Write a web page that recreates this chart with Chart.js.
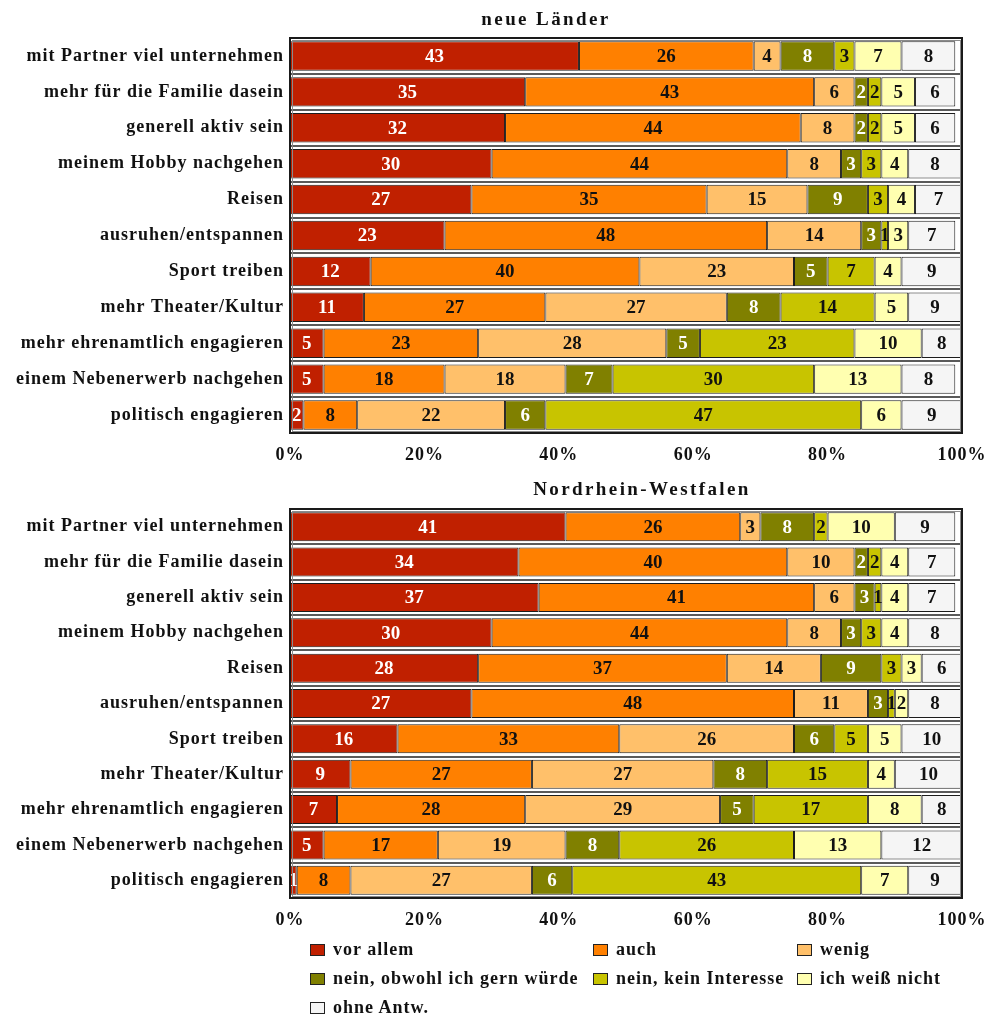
<!DOCTYPE html>
<html lang="de">
<head>
<meta charset="utf-8">
<title>Freizeitwünsche</title>
<script src="https://cdn.jsdelivr.net/npm/chart.js@4.4.1/dist/chart.umd.min.js"></script>
<style>
  html, body { margin: 0; padding: 0; background: #fff; }
  body { width: 989px; height: 1017px; position: relative; overflow: hidden;
         font-family: "Liberation Serif", "Times New Roman", serif; }
  .wrap { position: absolute; left: 0; width: 989px; }
  #legend { position: absolute; left: 0; top: 0; width: 989px; height: 1017px; pointer-events: none; }
  .item { position: absolute; display: flex; align-items: center; font-weight: bold;
          font-size: 18px; letter-spacing: 1px; color: #111; white-space: nowrap; }
  .box { width: 15px; height: 12px; border: 1.5px solid #222; margin-right: 8px; box-sizing: border-box; }
</style>
</head>
<body>
<div class="wrap" style="top:0;height:470px;"><canvas id="c1" width="989" height="470"></canvas></div>
<div class="wrap" style="top:470px;height:460px;"><canvas id="c2" width="989" height="460"></canvas></div>
<div id="legend"></div>
<script>
// Activities (rows, top to bottom)
const categories = [
  'mit Partner viel unternehmen',
  'mehr für die Familie dasein',
  'generell aktiv sein',
  'meinem Hobby nachgehen',
  'Reisen',
  'ausruhen/entspannen',
  'Sport treiben',
  'mehr Theater/Kultur',
  'mehr ehrenamtlich engagieren',
  'einem Nebenerwerb nachgehen',
  'politisch engagieren'
];

// Answer categories (stack order, left to right)
const seriesNames = [
  'vor allem', 'auch', 'wenig', 'nein, obwohl ich gern würde',
  'nein, kein Interesse', 'ich weiß nicht', 'ohne Antw.'
];
const seriesColors = ['#c02000', '#ff8000', '#ffc06a', '#808000', '#c8c400', '#ffffb0', '#f5f5f5'];
const labelColors  = ['#ffffff', '#111111', '#111111', '#ffffff', '#111111', '#111111', '#111111'];

const xTickLabels = ['0%', '20%', '40%', '60%', '80%', '100%'];

// neue Länder (percent)
const nlVorAllem   = [43, 35, 32, 30, 27, 23, 12, 11, 5, 5, 2];
const nlAuch       = [26, 43, 44, 44, 35, 48, 40, 27, 23, 18, 8];
const nlWenig      = [4, 6, 8, 8, 15, 14, 23, 27, 28, 18, 22];
const nlNeinGern   = [8, 2, 2, 3, 9, 3, 5, 8, 5, 7, 6];
const nlNeinKein   = [3, 2, 2, 3, 3, 1, 7, 14, 23, 30, 47];
const nlWeissNicht = [7, 5, 5, 4, 4, 3, 4, 5, 10, 13, 6];
const nlOhne       = [8, 6, 6, 8, 7, 7, 9, 9, 8, 8, 9];

// Nordrhein-Westfalen (percent)
const nrwVorAllem   = [41, 34, 37, 30, 28, 27, 16, 9, 7, 5, 1];
const nrwAuch       = [26, 40, 41, 44, 37, 48, 33, 27, 28, 17, 8];
const nrwWenig      = [3, 10, 6, 8, 14, 11, 26, 27, 29, 19, 27];
const nrwNeinGern   = [8, 2, 3, 3, 9, 3, 6, 8, 5, 8, 6];
const nrwNeinKein   = [2, 2, 1, 3, 3, 1, 5, 15, 17, 26, 43];
const nrwWeissNicht = [10, 4, 4, 4, 3, 2, 5, 4, 8, 13, 7];
const nrwOhne       = [9, 7, 7, 8, 6, 8, 10, 10, 8, 12, 9];

const FONT = '"Liberation Serif", "Times New Roman", serif';

function makeDatasets(seriesValues) {
  return seriesValues.map((vals, i) => ({
    label: seriesNames[i],
    data: vals,
    backgroundColor: seriesColors[i],
    borderColor: '#1c1c1c',
    borderWidth: 1,
    borderSkipped: false,
    barPercentage: 0.82,
    categoryPercentage: 1.0
  }));
}

// Slightly spaced lettering for axis text
const spacing = {
  id: 'spacing',
  beforeDraw(chart) {
    if ('letterSpacing' in chart.ctx) chart.ctx.letterSpacing = '1px';
  }
};

// Centered value labels inside each segment
const valueLabels = {
  id: 'valueLabels',
  afterDatasetsDraw(chart) {
    const ctx = chart.ctx;
    const area = chart.chartArea;
    ctx.save();
    if ('letterSpacing' in ctx) ctx.letterSpacing = '0px';
    ctx.beginPath();
    ctx.rect(area.left, area.top, area.right - area.left, area.bottom - area.top);
    ctx.clip();
    ctx.font = 'bold 19px ' + FONT;
    ctx.textAlign = 'center';
    ctx.textBaseline = 'middle';
    chart.data.datasets.forEach((ds, di) => {
      const meta = chart.getDatasetMeta(di);
      meta.data.forEach((el, i) => {
        const v = ds.data[i];
        if (!v) return;
        const a = Math.max(Math.min(el.base, el.x), area.left);
        const b = Math.min(Math.max(el.base, el.x), area.right);
        ctx.fillStyle = labelColors[di];
        ctx.fillText(String(v), (a + b) / 2, el.y + 1);
      });
    });
    ctx.restore();
  }
};

// Heavy frame round the plot area and the panel heading
const frameAndHeading = {
  id: 'frameAndHeading',
  afterDraw(chart, args, opts) {
    const ctx = chart.ctx;
    const a = chart.chartArea;
    ctx.save();
    ctx.strokeStyle = '#8a8a8a';
    ctx.lineWidth = 1;
    ctx.strokeRect(a.left + 2.5, a.top + 2.5, a.right - a.left - 4, a.bottom - a.top - 4);
    ctx.strokeStyle = '#1a1a1a';
    ctx.lineWidth = 2;
    ctx.strokeRect(a.left, a.top, a.right - a.left, a.bottom - a.top);
    ctx.fillStyle = '#111';
    ctx.font = 'bold 19px ' + FONT;
    if ('letterSpacing' in ctx) ctx.letterSpacing = '2.4px';
    ctx.textAlign = 'center';
    ctx.textBaseline = 'middle';
    ctx.fillText(opts.text, opts.x, opts.y);
    ctx.restore();
  }
};

function makeChart(canvasId, seriesValues, heading, padTop, xAxisHeight) {
  return new Chart(document.getElementById(canvasId), {
    type: 'bar',
    data: { labels: categories, datasets: makeDatasets(seriesValues) },
    plugins: [spacing, valueLabels, frameAndHeading],
    options: {
      indexAxis: 'y',
      responsive: false,
      animation: false,
      devicePixelRatio: 1,
      layout: { padding: { top: padTop, right: 27, left: 0, bottom: 0 } },
      plugins: {
        legend: { display: false },
        tooltip: { enabled: false },
        title: { display: false },
        frameAndHeading: heading
      },
      scales: {
        x: {
          stacked: true,
          min: 0,
          max: 100,
          afterFit(scale) {
            scale.height = xAxisHeight;
            scale.paddingLeft = 0;
            scale.paddingRight = 0;
          },
          afterBuildTicks(scale) {
            scale.ticks = xTickLabels.map((t, i) => ({ value: i * 20 }));
          },
          grid: { display: false, drawTicks: false },
          border: { display: false },
          ticks: {
            padding: 12,
            color: '#111',
            font: { family: FONT, size: 18, weight: 'bold' },
            callback: (v, i) => xTickLabels[i]
          }
        },
        y: {
          stacked: true,
          afterFit(scale) { scale.width = 290; },
          grid: { display: true, offset: true, drawTicks: false, color: '#5a5a5a', lineWidth: 2 },
          border: { display: false },
          ticks: {
            padding: 6,
            color: '#111',
            font: { family: FONT, size: 18, weight: 'bold' }
          }
        }
      }
    }
  });
}

makeChart('c1',
  [nlVorAllem, nlAuch, nlWenig, nlNeinGern, nlNeinKein, nlWeissNicht, nlOhne],
  { text: 'neue Länder', x: 546, y: 20 }, 38, 37);

makeChart('c2',
  [nrwVorAllem, nrwAuch, nrwWenig, nrwNeinGern, nrwNeinKein, nrwWeissNicht, nrwOhne],
  { text: 'Nordrhein-Westfalen', x: 642, y: 20 }, 39, 32);

// Legend: three columns, filled row by row
const legendCols = [310, 593, 797];
const legendRows = [950, 979, 1008];
const legend = document.getElementById('legend');
seriesNames.forEach((name, i) => {
  const item = document.createElement('div');
  item.className = 'item';
  item.style.left = legendCols[i % 3] + 'px';
  item.style.top = (legendRows[Math.floor(i / 3)] - 11) + 'px';
  const box = document.createElement('span');
  box.className = 'box';
  box.style.background = seriesColors[i];
  item.appendChild(box);
  item.appendChild(document.createTextNode(name));
  legend.appendChild(item);
});
</script>
</body>
</html>
